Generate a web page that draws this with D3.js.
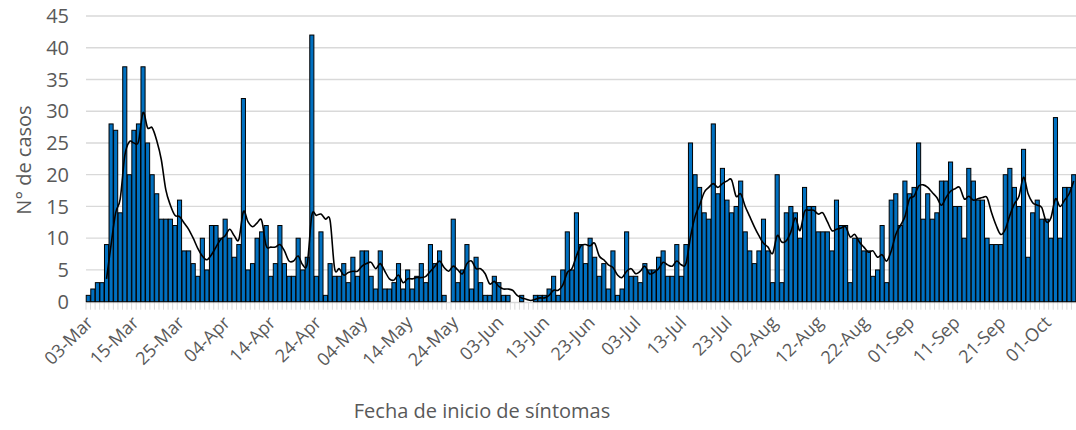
<!DOCTYPE html>
<html><head><meta charset="utf-8">
<script src="https://cdn.jsdelivr.net/npm/d3@7"></script>
<style>
body{margin:0;background:#fff}
svg{display:block}
text{font-family:"Open Sans",sans-serif;fill:#595959}
</style>
</head><body><svg id="chart" width="1076" height="430"></svg>
<script>
// Daily cases (one value per category)
const cases = [
 1,2,3,3,9,28,27,14,37,20,
 27,28,37,25,20,17,13,13,13,12,
 16,8,8,6,4,10,5,12,12,10,
 13,10,7,9,32,5,6,10,11,12,
 4,6,12,6,4,4,10,5,7,42,
 4,11,1,6,4,4,6,3,7,4,
 8,8,4,2,8,2,2,3,6,2,
 5,2,4,6,3,9,6,8,1,0,
 13,3,5,9,2,7,3,1,1,4,
 3,1,1,0,0,1,0,0,1,1,
 1,2,4,1,5,11,5,14,9,6,
 10,7,4,6,2,8,1,2,11,4,
 4,3,6,5,5,7,8,4,4,9,
 4,9,25,20,18,14,13,28,17,21,
 16,14,15,19,11,8,6,8,13,8,
 3,20,3,14,15,14,10,18,15,15,
 11,11,11,8,16,12,12,3,10,10,
 8,8,4,5,12,3,16,17,12,19,
 17,18,25,13,17,13,14,19,19,22,
 15,15,10,21,19,16,16,10,9,9,
 9,20,21,18,15,24,7,14,16,13,
 13,10,29,10,18,18,20
];
// Category labels: first dates of March (some days missing), then consecutive days
const earlyDates = ["03-Mar","05-Mar","06-Mar","07-Mar","08-Mar","09-Mar","10-Mar","11-Mar","12-Mar","14-Mar"];
const dailyStart = "2020-03-15";
const tickLabels = ["03-Mar","15-Mar","25-Mar","04-Apr","14-Apr","24-Apr","04-May","14-May","24-May","03-Jun","13-Jun","23-Jun","03-Jul","13-Jul","23-Jul","02-Aug","12-Aug","22-Aug","01-Sep","11-Sep","21-Sep","01-Oct"];
const yTicks = [0,5,10,15,20,25,30,35,40,45];
const maPeriod = 5;
const yTitle = "N° de casos";
const xTitle = "Fecha de inicio de síntomas";

const fmt = d3.timeFormat("%d-%b");
const start = d3.timeParse("%Y-%m-%d")(dailyStart);
const categories = earlyDates.concat(
  d3.range(cases.length - earlyDates.length).map(i => fmt(d3.timeDay.offset(start, i)))
);
const data = categories.map((c, i) => ({c, v: cases[i], i}));

// trailing moving average (trendline)
const ma = [];
for (let i = maPeriod - 1; i < cases.length; i++) {
  ma.push({c: categories[i], v: d3.mean(cases.slice(i - maPeriod + 1, i + 1))});
}

const svg = d3.select("#chart");
const L = 86, R = 1076, T = 16, B = 301.7;

const x = d3.scaleBand().domain(categories).range([L, R]).paddingInner(0.1).paddingOuter(0.05);
const y = d3.scaleLinear().domain([0, 45]).range([B, T]);
const cx = c => x(c) + x.bandwidth() / 2;

// gridlines
svg.append("g").selectAll("line").data(yTicks.filter(d => d > 0)).join("line")
  .attr("x1", L).attr("x2", R)
  .attr("y1", d => y(d)).attr("y2", d => y(d))
  .attr("stroke", "#d9d9d9").attr("stroke-width", 1.3);

// y tick labels
svg.append("g").selectAll("text").data(yTicks).join("text")
  .attr("x", 69).attr("y", d => y(d)).attr("dy", "0.36em")
  .attr("text-anchor", "end").attr("font-size", 20).text(d => d);

// x axis line + category ticks
const step = x.step();
svg.append("line").attr("x1", L).attr("x2", R).attr("y1", B + 0.8).attr("y2", B + 0.8)
  .attr("stroke", "#d9d9d9").attr("stroke-width", 1.3);
svg.append("g").selectAll("line").data(categories).join("line")
  .attr("x1", d => x(d) - step * x.paddingInner() / 2).attr("x2", d => x(d) - step * x.paddingInner() / 2)
  .attr("y1", B + 1).attr("y2", B + 8)
  .attr("stroke", "#d9d9d9").attr("stroke-width", 1);

// bars
svg.append("g").selectAll("rect").data(data.filter(d => d.v > 0)).join("rect")
  .attr("x", d => x(d.c)).attr("width", x.bandwidth())
  .attr("y", d => y(d.v)).attr("height", d => y(0) - y(d.v))
  .attr("fill", "#0070c0").attr("stroke", "#000").attr("stroke-width", 1);

// moving average line
svg.append("path").datum(ma)
  .attr("fill", "none").attr("stroke", "#000").attr("stroke-width", 1.6)
  .attr("d", d3.line().x(d => cx(d.c)).y(d => y(d.v)).curve(d3.curveCatmullRom.alpha(0)));

// x tick labels
svg.append("g").selectAll("text").data(tickLabels).join("text")
  .attr("transform", d => `translate(${cx(d) + 6},${B + 22}) rotate(-45)`)
  .attr("text-anchor", "end").attr("font-size", 18).text(d => d);

// titles
svg.append("text").attr("x", 482).attr("y", 418)
  .attr("text-anchor", "middle").attr("font-size", 20).text(xTitle);
svg.append("text").attr("transform", "translate(31,160) rotate(-90)")
  .attr("text-anchor", "middle").attr("font-size", 20).text(yTitle);
</script>
</body></html>
